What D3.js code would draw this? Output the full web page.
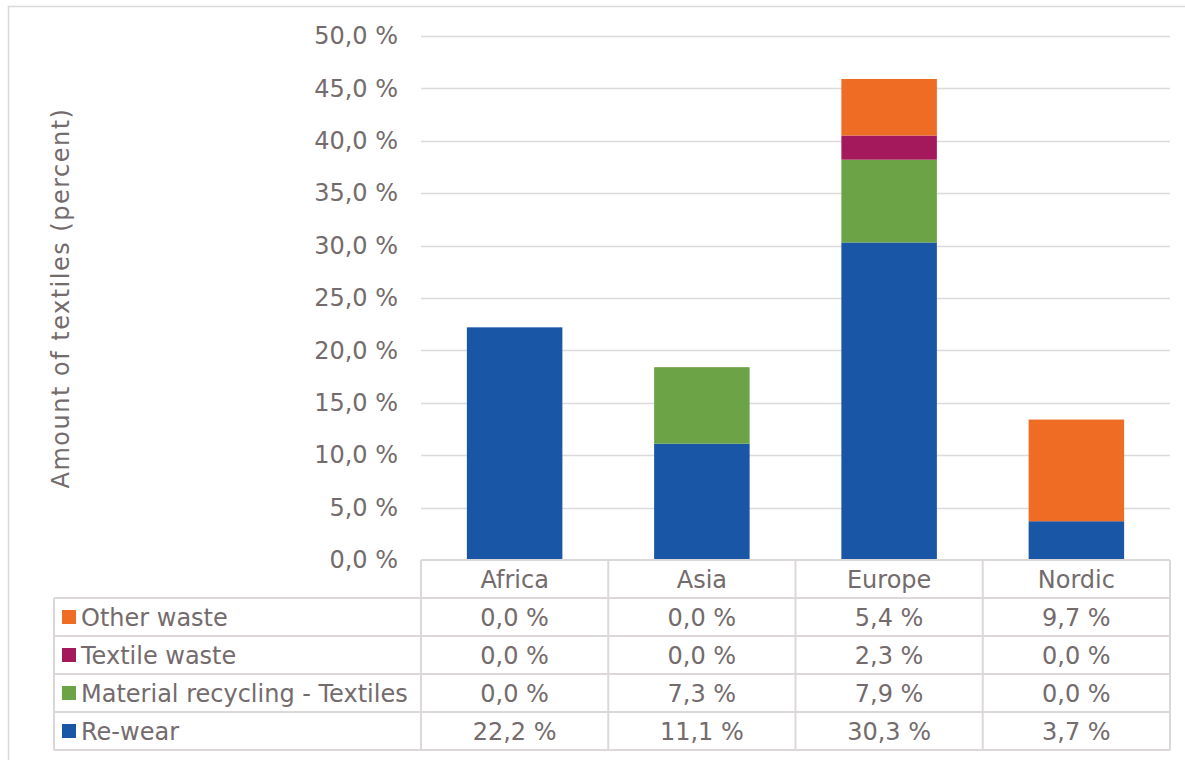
<!DOCTYPE html>
<html>
<head>
<meta charset="utf-8">
<title>Textiles by region</title>
<script src="https://cdn.jsdelivr.net/npm/d3@7/dist/d3.min.js"></script>
<style>
  body { margin: 0; background: #fff; }
  text { font-family: "DejaVu Sans", Verdana, sans-serif; fill: #736b6c; }
</style>
</head>
<body>
<script>
// data
var regions = ["Africa", "Asia", "Europe", "Nordic"];
var series = ["Re-wear", "Material recycling - Textiles", "Textile waste", "Other waste"];
var reWear = [22.2, 11.1, 30.3, 3.7];
var materialRecycling = [0.0, 7.3, 7.9, 0.0];
var textileWaste = [0.0, 0.0, 2.3, 0.0];
var otherWaste = [0.0, 0.0, 5.4, 9.7];
var yTicks = [0, 5, 10, 15, 20, 25, 30, 35, 40, 45, 50];
var colors = ["#1a56a6", "#6ca346", "#a3195b", "#ee6c24"];

var w = 1185, h = 760;
var fs = 24;
var plotLeft = 421, plotRight = 1170, plotTop = 36, plotBottom = 560;
var rowH = 38, legendLeft = 54;

var svg = d3.select("body").append("svg")
    .attr("width", w)
    .attr("height", h);

svg.append("rect")
    .attr("x", 8.5).attr("y", 6.5)
    .attr("width", 1200).attr("height", 800)
    .attr("fill", "none")
    .attr("stroke", "#dcd8d9")
    .attr("stroke-width", 1.5);

var x = d3.scaleBand()
    .domain(regions)
    .range([plotLeft, plotRight])
    .paddingInner(0)
    .paddingOuter(0);

var y = d3.scaleLinear()
    .domain([0, 50])
    .range([plotBottom, plotTop]);

var color = d3.scaleOrdinal().domain(series).range(colors);

// gridlines
svg.append("g")
  .selectAll("line")
  .data(yTicks.filter(function(d){ return d > 0; }))
  .enter().append("line")
    .attr("x1", plotLeft).attr("x2", plotRight)
    .attr("y1", function(d){ return Math.round(y(d)) + 0.5; })
    .attr("y2", function(d){ return Math.round(y(d)) + 0.5; })
    .attr("stroke", "#dedadb")
    .attr("stroke-width", 1.5);

// y axis labels
var yAxis = d3.axisLeft(y)
    .tickValues(yTicks)
    .tickSize(0)
    .tickPadding(0)
    .tickFormat(function(d){ return d3.format(".1f")(d).replace(".", ",") + " %"; });

var ya = svg.append("g")
    .attr("transform", "translate(398,0)")
    .call(yAxis);
ya.select(".domain").remove();
ya.selectAll("text")
    .style("font-size", fs + "px")
    .style("font-family", "DejaVu Sans, Verdana, sans-serif")
    .attr("fill", "#736b6c");

// axis title
svg.append("text")
    .attr("transform", "translate(69," + ((plotTop + plotBottom) / 2) + ") rotate(-90)")
    .attr("text-anchor", "middle")
    .style("font-size", fs + "px")
    .style("letter-spacing", "1.5px")
    .text("Amount of textiles (percent)");

// stacked bars
var rows = regions.map(function(r, i) {
  return { region: r, "Re-wear": reWear[i], "Material recycling - Textiles": materialRecycling[i],
           "Textile waste": textileWaste[i], "Other waste": otherWaste[i] };
});
var stack = d3.stack().keys(series)(rows);
var barW = x.bandwidth() * 0.51;

svg.append("g")
  .selectAll("g")
  .data(stack)
  .enter().append("g")
    .attr("fill", function(d){ return color(d.key); })
  .selectAll("rect")
  .data(function(d){ return d.filter(function(p){ return p[1] - p[0] > 0; }); })
  .enter().append("rect")
    .attr("x", function(d){ return x(d.data.region) + (x.bandwidth() - barW) / 2; })
    .attr("width", barW)
    .attr("y", function(d){ return y(d[1]); })
    .attr("height", function(d){ return y(d[0]) - y(d[1]); });

// data table
var tableRows = series.slice().reverse();
var values = { "Re-wear": reWear, "Material recycling - Textiles": materialRecycling,
               "Textile waste": textileWaste, "Other waste": otherWaste };
var gridColor = "#dcd8d9";
var tbl = svg.append("g");
var tableBottom = plotBottom + rowH * (tableRows.length + 1);

// horizontal lines
tbl.append("line")
    .attr("x1", plotLeft).attr("x2", plotRight)
    .attr("y1", plotBottom).attr("y2", plotBottom)
    .attr("stroke", gridColor).attr("stroke-width", 2);
d3.range(1, tableRows.length + 2).forEach(function(i) {
  tbl.append("line")
      .attr("x1", legendLeft).attr("x2", plotRight)
      .attr("y1", plotBottom + rowH * i).attr("y2", plotBottom + rowH * i)
      .attr("stroke", gridColor).attr("stroke-width", 2);
});
// vertical lines
tbl.append("line")
    .attr("x1", legendLeft).attr("x2", legendLeft)
    .attr("y1", plotBottom + rowH).attr("y2", tableBottom)
    .attr("stroke", gridColor).attr("stroke-width", 2);
regions.concat(["end"]).forEach(function(r, i) {
  var xx = i < regions.length ? x(r) : plotRight;
  tbl.append("line")
      .attr("x1", xx).attr("x2", xx)
      .attr("y1", plotBottom).attr("y2", tableBottom)
      .attr("stroke", gridColor).attr("stroke-width", 2);
});

// header
tbl.selectAll("text.head")
  .data(regions)
  .enter().append("text")
    .attr("class", "head")
    .attr("x", function(d){ return x(d) + x.bandwidth() / 2; })
    .attr("y", plotBottom + rowH / 2)
    .attr("dy", "0.36em")
    .attr("text-anchor", "middle")
    .style("font-size", fs + "px")
    .text(function(d){ return d; });

tableRows.forEach(function(s, i) {
  var cy = plotBottom + rowH * (i + 1) + rowH / 2;
  tbl.append("rect")
      .attr("x", 62).attr("y", cy - 7)
      .attr("width", 14).attr("height", 14)
      .attr("fill", color(s));
  tbl.append("text")
      .attr("x", 81).attr("y", cy)
      .attr("dy", "0.36em")
      .style("font-size", fs + "px")
      .text(s);
  tbl.selectAll(null)
    .data(values[s])
    .enter().append("text")
      .attr("x", function(d, j){ return x(regions[j]) + x.bandwidth() / 2; })
      .attr("y", cy)
      .attr("dy", "0.36em")
      .attr("text-anchor", "middle")
      .style("font-size", fs + "px")
      .text(function(d){ return d3.format(".1f")(d).replace(".", ",") + " %"; });
});
</script>
</body>
</html>
